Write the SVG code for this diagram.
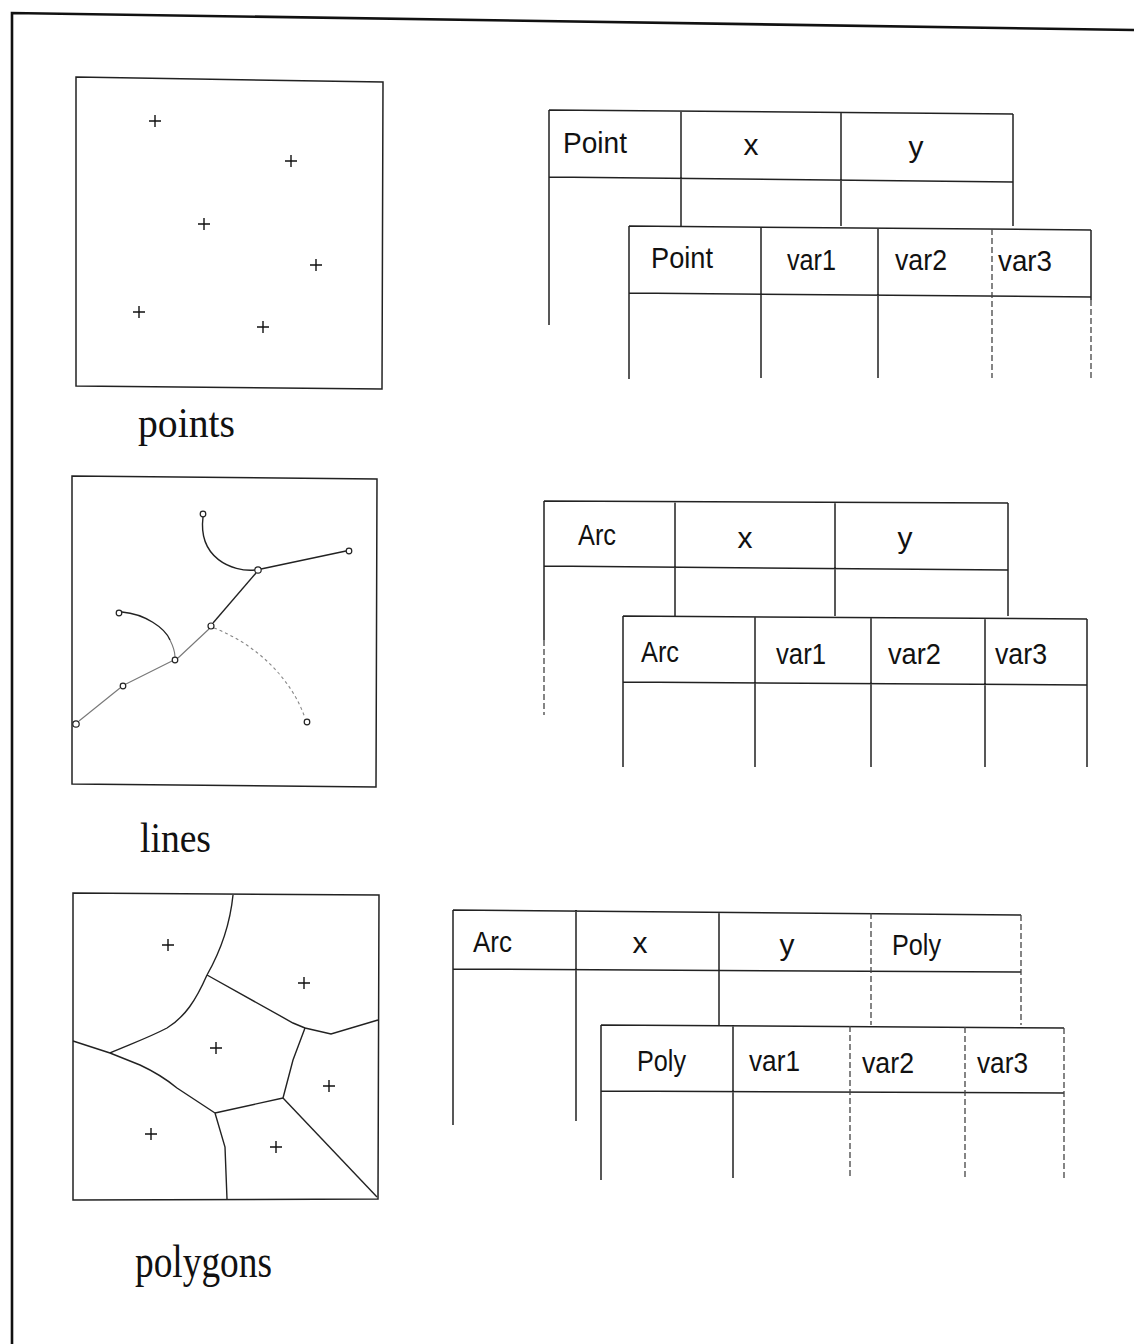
<svg xmlns="http://www.w3.org/2000/svg" width="1134" height="1344" viewBox="0 0 1134 1344">
<style>
.frame{fill:none;stroke:#111;stroke-width:2.6}
.box{fill:none;stroke:#222;stroke-width:1.5}
.tl{stroke:#222;stroke-width:1.5;fill:none}
.dash{stroke:#444;stroke-width:1.3;stroke-dasharray:6 3;fill:none}
.cross{stroke:#111;stroke-width:1.4}
.arc{fill:none;stroke:#222;stroke-width:1.4}
.faint{fill:none;stroke:#777;stroke-width:1.1}
.dot{fill:none;stroke:#888;stroke-width:1.1;stroke-dasharray:3 3}
.nd{fill:#fff;stroke:#222;stroke-width:1.2}
.lab{font-family:"Liberation Serif","DejaVu Serif",serif;font-size:43px;fill:#111}
.tt{font-family:"Liberation Sans Narrow","Liberation Sans",sans-serif;font-size:30px;fill:#111}
.ts{font-family:"Liberation Sans Narrow","Liberation Sans",sans-serif;font-size:29px;fill:#111}
</style>
<defs>
<path id="plus" d="M-6,0H6M0,-6V6" class="cross"/>
</defs>

<g id="frame">
<path class="frame" d="M1134,30 L12,13 L12,1344"/>
</g>

<g id="points-panel">
<polygon class="box" points="76,77 383,82 382,389 76,386"/>
<use href="#plus" x="155" y="121"/>
<use href="#plus" x="291" y="161"/>
<use href="#plus" x="204" y="224"/>
<use href="#plus" x="316" y="265"/>
<use href="#plus" x="139" y="312"/>
<use href="#plus" x="263" y="327"/>
<text class="lab" x="138" y="437" textLength="97" lengthAdjust="spacingAndGlyphs">points</text>
</g>

<g id="point-table-1">
<path class="tl" d="M549,110 L1013,114 M549,177 L1013,182 M549,110 V325 M681,111 V226 M841,112 V227 M1013,114 V229"/>
<text class="tt" x="563" y="153" textLength="64" lengthAdjust="spacingAndGlyphs">Point</text>
<text class="tt" x="751" y="155" text-anchor="middle">x</text>
<text class="tt" x="916" y="157" text-anchor="middle">y</text>
</g>

<g id="point-table-2">
<rect x="629" y="226" width="462" height="153" fill="#fff" stroke="none"/>
<path class="tl" d="M629,226 L1091,230 M629,293 L1091,297 M629,226 V379 M761,227 V378 M878,228 V378 M1091,230 V300"/>
<path class="dash" d="M992,229 V378 M1091,300 V378"/>
<text class="tt" x="651" y="268" textLength="62" lengthAdjust="spacingAndGlyphs">Point</text>
<text class="tt" x="787" y="270" textLength="49" lengthAdjust="spacingAndGlyphs">var1</text>
<text class="tt" x="895" y="270" textLength="52" lengthAdjust="spacingAndGlyphs">var2</text>
<text class="tt" x="998" y="271" textLength="54" lengthAdjust="spacingAndGlyphs">var3</text>
</g>

<g id="lines-panel">
<polygon class="box" points="72,476 377,479 376,787 72,784"/>
<g id="arcs">
<path class="arc" d="M203,517 C198,558 232,572 255,570"/>
<path class="arc" d="M261,569 L346,551"/>
<path class="arc" d="M256,573 L213,623"/>
<path class="arc" d="M122,612 C145,614 165,628 170,640"/>
<path class="faint" d="M170,640 C174,648 175,652 175,657"/>
<path class="faint" d="M209,629 L178,658"/>
<path class="faint" d="M172,661 L126,684"/>
<path class="faint" d="M120,688 L79,721"/>
<path class="dot" d="M214,628 C258,645 292,680 305,718"/>
</g>
<circle class="nd" cx="203" cy="514" r="2.8"/>
<circle class="nd" cx="349" cy="551" r="2.8"/>
<circle class="nd" cx="258" cy="570" r="3.2"/>
<circle class="nd" cx="119" cy="613" r="2.8"/>
<circle class="nd" cx="211" cy="626" r="3"/>
<circle class="nd" cx="175" cy="660" r="2.8"/>
<circle class="nd" cx="123" cy="686" r="2.8"/>
<circle class="nd" cx="76" cy="724" r="3.2"/>
<circle class="nd" cx="307" cy="722" r="2.8"/>
<text class="lab" x="140" y="852" textLength="71" lengthAdjust="spacingAndGlyphs">lines</text>
</g>

<g id="arc-table-1">
<path class="tl" d="M544,501 L1008,503 M544,566 L1008,570 M544,501 V640 M675,501 V616 M835,502 V616 M1008,503 V617"/>
<path class="dash" d="M544,640 V715"/>
<text class="ts" x="578" y="545" textLength="38" lengthAdjust="spacingAndGlyphs">Arc</text>
<text class="tt" x="745" y="548" text-anchor="middle">x</text>
<text class="tt" x="905" y="548" text-anchor="middle">y</text>
</g>

<g id="arc-table-2">
<rect x="623" y="616" width="464" height="151" fill="#fff" stroke="none"/>
<path class="tl" d="M623,616 L1087,619 M623,682 L1087,685 M623,616 V767 M755,617 V767 M871,618 V767 M985,618 V767 M1087,619 V767"/>
<text class="ts" x="641" y="662" textLength="38" lengthAdjust="spacingAndGlyphs">Arc</text>
<text class="tt" x="776" y="664" textLength="50" lengthAdjust="spacingAndGlyphs">var1</text>
<text class="tt" x="888" y="664" textLength="53" lengthAdjust="spacingAndGlyphs">var2</text>
<text class="tt" x="995" y="664" textLength="52" lengthAdjust="spacingAndGlyphs">var3</text>
</g>

<g id="polygons-panel">
<polygon class="box" points="73,893 379,895 378,1199 73,1200"/>
<g id="voronoi-edges" class="arc">
<path d="M233,895 C231,915 224,945 207,975"/>
<path d="M207,975 C196,1000 185,1017 167,1028 C148,1038 128,1045 110,1053"/>
<path d="M207,975 L293,1023 L305,1028"/>
<path d="M305,1028 L331,1034 L378,1020"/>
<path d="M305,1028 L293,1060 L283,1098"/>
<path d="M73,1041 L110,1053 L140,1065 C155,1072 165,1078 177,1088 L215,1113"/>
<path d="M215,1113 L283,1098"/>
<path d="M215,1113 L225,1147 L227,1199"/>
<path d="M283,1098 L377,1197"/>
</g>
<use href="#plus" x="168" y="945"/>
<use href="#plus" x="304" y="983"/>
<use href="#plus" x="216" y="1048"/>
<use href="#plus" x="329" y="1086"/>
<use href="#plus" x="151" y="1134"/>
<use href="#plus" x="276" y="1147"/>
<text class="lab" x="135" y="1277" textLength="137" lengthAdjust="spacingAndGlyphs" style="font-size:46px">polygons</text>
</g>

<g id="poly-table-1">
<path class="tl" d="M453,910 L1021,915 M453,969 L1021,972 M453,910 V1125 M576,910 V1121 M719,912 V1025"/>
<path class="dash" d="M871,913 V1025 M1021,915 V1026"/>
<text class="ts" x="473" y="952" textLength="39" lengthAdjust="spacingAndGlyphs">Arc</text>
<text class="tt" x="640" y="953" text-anchor="middle">x</text>
<text class="tt" x="787" y="955" text-anchor="middle">y</text>
<text class="tt" x="892" y="955" textLength="49" lengthAdjust="spacingAndGlyphs">Poly</text>
</g>

<g id="poly-table-2">
<rect x="601" y="1025" width="463" height="155" fill="#fff" stroke="none"/>
<path class="tl" d="M601,1025 L1064,1028 M601,1091 L1064,1093 M601,1025 V1180 M733,1025 V1178"/>
<path class="dash" d="M850,1026 V1178 M965,1027 V1178 M1064,1028 V1178"/>
<text class="tt" x="637" y="1071" textLength="49" lengthAdjust="spacingAndGlyphs">Poly</text>
<text class="tt" x="749" y="1071" textLength="51" lengthAdjust="spacingAndGlyphs">var1</text>
<text class="tt" x="862" y="1073" textLength="52" lengthAdjust="spacingAndGlyphs">var2</text>
<text class="tt" x="977" y="1073" textLength="51" lengthAdjust="spacingAndGlyphs">var3</text>
</g>
</svg>
